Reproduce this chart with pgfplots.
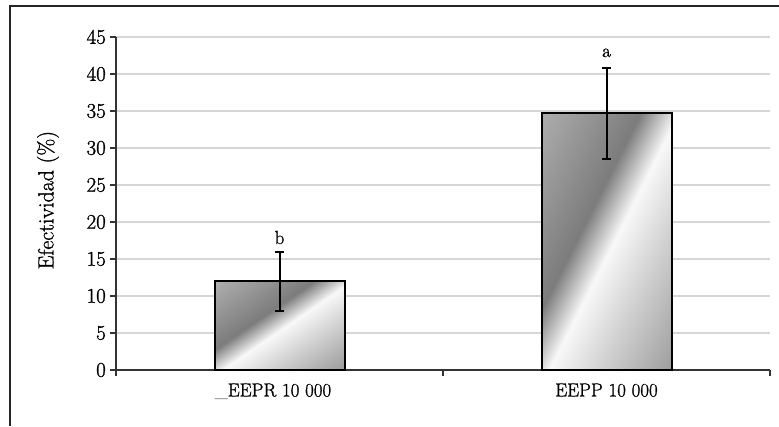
\documentclass[border=0pt]{standalone}
\usepackage{fontspec}
\setmainfont{Latin Modern Roman}[UprightFeatures={FakeBold=1.2}]
\usepackage{pgfplots}
\pgfplotsset{compat=1.18}
\definecolor{shA}{HTML}{B0B0B0}
\definecolor{shB}{HTML}{7C7C7C}
\definecolor{shC}{HTML}{F8F8F8}
\definecolor{shD}{HTML}{D4D4D4}
\definecolor{shE}{HTML}{9A9A9A}
\definecolor{gridgray}{HTML}{D6D6D6}
\pgfdeclarehorizontalshading{barshade}{100bp}{color(0bp)=(shA); color(15bp)=(shA); color(42bp)=(shB); color(52bp)=(shC); color(64bp)=(shD); color(85bp)=(shE); color(100bp)=(shE)}
\begin{document}
\begin{tikzpicture}[x=1bp,y=1bp]
\useasboundingbox (0,0) rectangle (779,426);
\draw[line width=2.5bp, black!85] (10,0) -- (10,420) -- (779,420);
\begin{axis}[
  at={(116bp,56bp)}, anchor=south west,
  scale only axis, width=654bp, height=333bp,
  xmin=-0.5, xmax=1.5, ymin=0, ymax=45,
  ytick={0,5,...,45},
  xtick={0,1},
  xticklabels={\llap{\textcolor{black!60}{\_}}EEPR 10 000, EEPP 10 000},
  minor xtick={-0.5,0.5,1.5},
  tick align=outside,
  major tick length=6bp, minor tick length=6bp,
  major x tick style={draw=none},
  axis x line*=bottom, axis y line*=left,
  axis line style={-, line width=1.5bp, black!80},
  tick style={line width=1.5bp, black!80},
  ymajorgrids,
  grid style={line width=1.5bp, gridgray},
  /pgf/number format/assume math mode=true,
  yticklabel style={font=\fontsize{21}{24}\selectfont, inner xsep=4bp},
  xticklabel style={font=\fontsize{19}{22}\selectfont, yshift=-4bp},
  ylabel={Efectividad (\%)},
  ylabel style={at={(axis description cs:-0.104,0.51)}, anchor=center, font=\fontsize{22}{25}\selectfont},
  every axis plot/.append style={ybar, bar width=130bp, bar shift=0pt, draw=black, line width=2bp, shading=barshade},
  bar err/.style={error bars/.cd, y dir=both, y explicit,
    error bar style={line width=2bp, black},
    error mark options={rotate=90, mark size=4.5bp, line width=2bp, black}},
]
\addplot[shading angle=-55.6, bar err] coordinates {(0,12) +- (0,4)};
\addplot[shading angle=-26.8, bar err] coordinates {(1,34.7) +- (0,6.15)};
\node[anchor=base, font=\fontsize{19}{22}\selectfont] at (axis cs:0,17.03) {b};
\node[anchor=base, font=\fontsize{19}{22}\selectfont] at (axis cs:1,42.3) {a};
\end{axis}
\end{tikzpicture}
\end{document}
